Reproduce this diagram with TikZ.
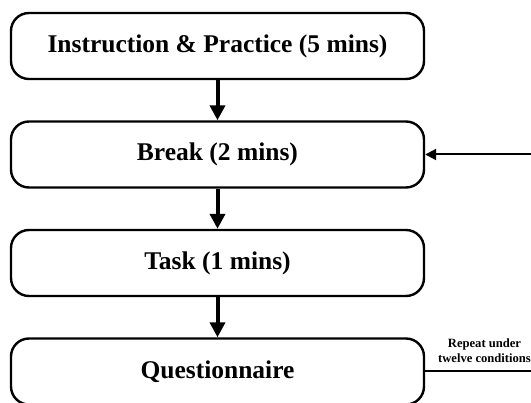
\documentclass[tikz,border=0pt]{standalone}
\usepackage{fontspec}
\setmainfont{Liberation Serif}
\usetikzlibrary{arrows.meta}
\begin{document}
\begin{tikzpicture}[x=1pt,y=-1pt,
  stagebox/.style={draw, line width=2.4pt, rounded corners=18pt,
    minimum width=413pt, minimum height=66pt, inner sep=0pt,
    font=\fontsize{25.5}{30}\selectfont\bfseries},
  flowarrow/.style={line width=4pt, -{Triangle[length=15pt,width=15pt]}},
  looparrow/.style={line width=2pt, -{Triangle[length=11pt,width=11pt]}},
  note/.style={align=center, inner sep=0pt, font=\fontsize{12.6}{15}\selectfont\bfseries}]
\useasboundingbox (0,0) rectangle (531,403);

\node[stagebox] (instr) at (217.5,46) {Instruction \& Practice (5 mins)};
\node[stagebox] (brk)   at (217.5,154.5) {Break (2 mins)};
\node[stagebox] (task)  at (217.5,263) {Task (1 mins)};
\node[stagebox] (quest) at (217.5,371.5) {Questionnaire};

\draw[flowarrow] (instr.south) -- (brk.north);
\draw[flowarrow] (brk.south) -- (task.north);
\draw[flowarrow] (task.south) -- (quest.north);

% repeat loop back to the break stage
\coordinate (loop) at (545,0);
\draw[looparrow] (quest.east) -- (quest.east -| loop) |- (brk.east);
\node[note] (repeat) at (484.5,350.5) {Repeat under\\twelve conditions};
\end{tikzpicture}
\end{document}
